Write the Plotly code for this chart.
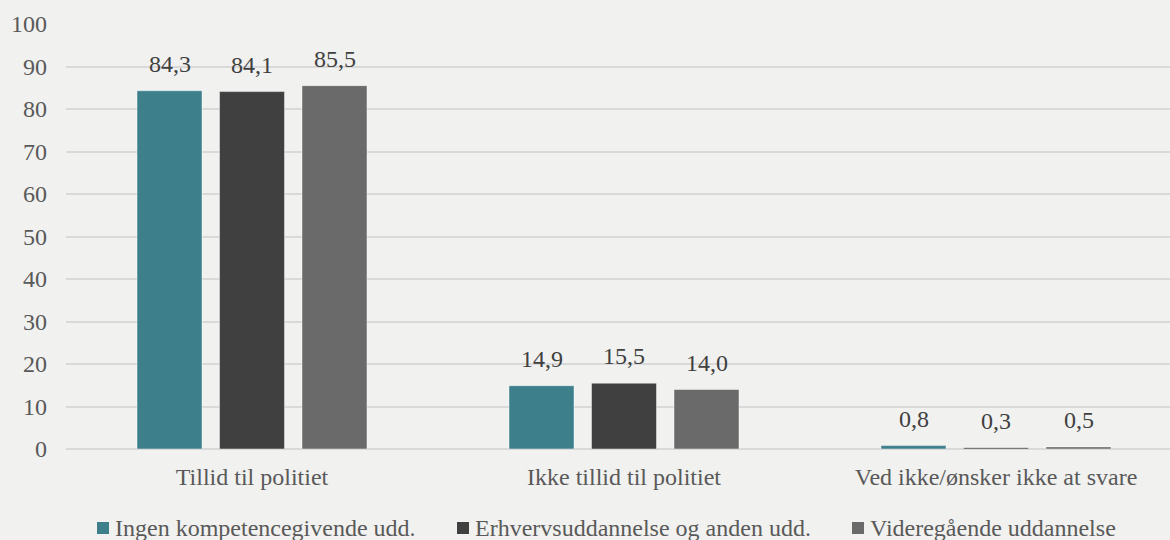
import plotly.graph_objects as go

categories = ["Tillid til politiet", "Ikke tillid til politiet", "Ved ikke/ønsker ikke at svare"]
series_names = ["Ingen kompetencegivende udd.", "Erhvervsuddannelse og anden udd.", "Videregående uddannelse"]
ingen = [84.3, 14.9, 0.8]
erhverv = [84.1, 15.5, 0.3]
videre = [85.5, 14.0, 0.5]
series_values = [ingen, erhverv, videre]
colors = ["#3d7f8b", "#404040", "#6a6a6a"]
y_ticks = [0, 10, 20, 30, 40, 50, 60, 70, 80, 90, 100]

W, H = 1170, 540
ML, MR, MT, MB = 66, 0, 24, 91
plot_w = W - ML - MR
plot_h = H - MT - MB
cat_px = 372.0  # pixels per category
slot_px = 82.5
FONT = "'Liberation Serif', 'Times New Roman', Tinos, 'DejaVu Serif', serif"

fig = go.Figure()
for name, vals, col in zip(series_names, series_values, colors):
    fig.add_trace(go.Bar(
        x=categories, y=vals, name=name,
        marker=dict(color=col, line=dict(color="rgba(255,255,255,0.45)", width=1)),
        showlegend=False, hoverinfo="x+y+name",
    ))

annotations = []
for j, vals in enumerate(series_values):
    for cat, v in zip(categories, vals):
        annotations.append(dict(
            x=cat, y=v, xref="x", yref="y", text=f"{v:.1f}".replace(".", ","),
            showarrow=False, yanchor="bottom", xanchor="center",
            xshift=(j - 1) * slot_px, yshift=12,
            font=dict(family=FONT, size=24, color="#404040"),
        ))

# legend (text + swatches)
legend_px = [97, 457, 852]
shapes = []
for name, col, px in zip(series_names, colors, legend_px):
    x0 = (px - ML) / plot_w
    x1 = (px + 12 - ML) / plot_w
    y0 = (MT + plot_h - 534) / plot_h
    y1 = (MT + plot_h - 522) / plot_h
    shapes.append(dict(type="rect", xref="paper", yref="paper", x0=x0, x1=x1, y0=y0, y1=y1,
                       fillcolor=col, line=dict(width=0)))
    annotations.append(dict(
        x=(px + 16 - ML) / plot_w, y=(MT + plot_h - 528) / plot_h, xref="paper", yref="paper",
        text=name, showarrow=False, xanchor="left", yanchor="middle",
        font=dict(family=FONT, size=24, color="#595959"),
    ))

fig.update_layout(
    width=W, height=H,
    margin=dict(l=ML, r=MR, t=MT, b=MB, pad=0),
    paper_bgcolor="#f1f1f0", plot_bgcolor="#f1f1f0",
    barmode="group", bargap=1 - 3 * slot_px / cat_px, bargroupgap=1 - 65 / slot_px,
    font=dict(family=FONT, size=24, color="#595959"),
    annotations=annotations, shapes=shapes,
    showlegend=False,
)
fig.update_xaxes(
    range=[-0.5, -0.5 + plot_w / cat_px], showgrid=False, zeroline=False,
    showline=False, ticks="", tickfont=dict(family=FONT, size=24, color="#595959"),
    ticklabelstandoff=11, fixedrange=True,
)
fig.update_yaxes(
    range=[0, 100], tickvals=y_ticks, showgrid=True, gridcolor="#d9d9d9", gridwidth=1.5,
    zeroline=True, zerolinecolor="#d9d9d9", zerolinewidth=1.5, showline=False, ticks="",
    tickfont=dict(family=FONT, size=24, color="#595959"), ticklabelstandoff=18, fixedrange=True,
)

fig.write_html("out.html", config={"displayModeBar": False},
               post_script="document.body.style.margin='0';document.body.style.background='#f1f1f0';")
